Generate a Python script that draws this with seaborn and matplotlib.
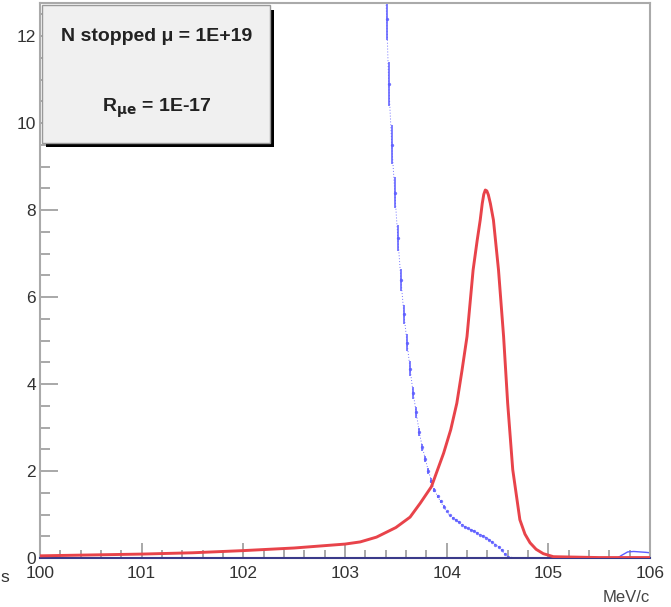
import numpy as np
import pandas as pd
import seaborn as sns
import matplotlib.pyplot as plt
from matplotlib.patches import Rectangle

# signal (red) curve
red_x = [100.0, 100.5, 101.0, 101.5, 102.0, 102.5, 103.0, 103.15, 103.31, 103.5,
         103.64, 103.74, 103.85, 103.97, 104.04, 104.1, 104.15, 104.2, 104.26,
         104.3, 104.33, 104.35, 104.365, 104.38, 104.395, 104.41, 104.43, 104.46,
         104.51, 104.56, 104.6, 104.65, 104.72, 104.77, 104.82, 104.88, 104.95,
         105.05, 105.5, 106.0]
red_y = [0.05, 0.07, 0.09, 0.12, 0.17, 0.23, 0.32, 0.37, 0.48, 0.7,
         0.94, 1.26, 1.64, 2.41, 2.95, 3.56, 4.3, 5.09, 6.62,
         7.3, 7.77, 8.15, 8.36, 8.46, 8.44, 8.35, 8.15, 7.77,
         6.62, 5.09, 3.56, 2.03, 0.88, 0.55, 0.35, 0.2, 0.1,
         0.03, 0.01, 0.01]

# DIO background (blue) points with errors
blue_x = [103.35, 103.38, 103.41, 103.43, 103.46, 103.49, 103.52, 103.55, 103.58,
          103.61, 103.64, 103.67, 103.70, 103.73, 103.76, 103.79, 103.82, 103.85,
          103.88, 103.91, 103.94, 103.97, 104.00, 104.03, 104.06, 104.09, 104.12,
          104.15, 104.18, 104.21, 104.24, 104.27, 104.30, 104.33, 104.36, 104.39,
          104.42, 104.45, 104.48, 104.51, 104.54, 104.57, 104.60, 104.63]
blue_y = [16.5, 14.2, 12.4, 10.9, 9.5, 8.4, 7.35, 6.4, 5.6,
          4.95, 4.35, 3.8, 3.35, 2.9, 2.55, 2.28, 2.0, 1.78,
          1.56, 1.42, 1.3, 1.18, 1.07, 0.98, 0.92, 0.87, 0.82,
          0.77, 0.72, 0.68, 0.65, 0.62, 0.58, 0.54, 0.5, 0.47,
          0.42, 0.37, 0.31, 0.25, 0.18, 0.1, 0.03, 0.0]
blue_err = [0.5, 0.5, 0.5, 0.5, 0.45, 0.35, 0.3, 0.25, 0.22,
            0.2, 0.17, 0.14, 0.12, 0.1, 0.08, 0.07, 0.06, 0.05,
            0.04, 0.03, 0.03, 0.03, 0.02, 0.02, 0.02, 0.02, 0.02,
            0.02, 0.02, 0.02, 0.02, 0.02, 0.02, 0.02, 0.02, 0.02,
            0.02, 0.02, 0.02, 0.02, 0.02, 0.02, 0.02, 0.0]
# small bump near the right edge
bump_x = [105.68, 105.72, 105.78, 105.84, 105.9, 105.96, 106.0]
bump_y = [0.0, 0.06, 0.14, 0.15, 0.14, 0.13, 0.12]

x_ticks = [100, 101, 102, 103, 104, 105, 106]
y_ticks = [0, 2, 4, 6, 8, 10, 12]

sns.set_style("white")
plt.rcParams['font.family'] = ['Liberation Sans', 'DejaVu Sans']

fig = plt.figure(figsize=(6.71, 6.07), dpi=100)
ax = fig.add_axes([40 / 671, 1 - 558 / 607, 610 / 671, 555 / 607])

red_df = pd.DataFrame({'p': red_x, 'n': red_y})
blue_df = pd.DataFrame({'p': blue_x, 'n': blue_y, 'e': blue_err})

blue_c = '#5c5cff'
ax.errorbar(blue_df['p'], blue_df['n'], yerr=blue_df['e'], fmt='none',
            ecolor=blue_c, elinewidth=1.4, alpha=0.8, zorder=2)
sns.lineplot(data=blue_df, x='p', y='n', ax=ax, color=blue_c, lw=0.7,
             marker='o', markersize=2.4, markeredgewidth=0, alpha=0.85,
             linestyle=(0, (1, 2)), zorder=2)
ax.plot(bump_x, bump_y, color=blue_c, lw=1.0, zorder=2)
sns.lineplot(data=red_df, x='p', y='n', ax=ax, color='#e8434a', lw=2.1, zorder=3)

ax.set_xlim(100, 106)
ax.set_ylim(0, 12.76)
ax.set_xticks(x_ticks)
ax.set_yticks(y_ticks)
ax.set_xticks(np.arange(100, 106.01, 0.2), minor=True)
ax.set_yticks(np.arange(0, 12.76, 0.5), minor=True)
ax.set_xlabel('')
ax.set_ylabel('')
ax.tick_params(axis='x', which='major', direction='in', length=11, width=1.2,
               color='#999999', labelsize=12.5, pad=6, labelcolor='#333333')
ax.tick_params(axis='x', which='minor', direction='in', length=6, width=1.2,
               color='#999999')
ax.tick_params(axis='y', which='major', direction='in', length=13, width=1.2,
               color='#999999', labelsize=12.5, pad=3, labelcolor='#333333')
ax.tick_params(axis='y', which='minor', direction='in', length=7, width=1.2,
               color='#999999')
ax.tick_params(left=True, bottom=True, which='both')

for side in ['top', 'right', 'left']:
    ax.spines[side].set_color('#aaaaaa')
    ax.spines[side].set_linewidth(1.5)
ax.spines['bottom'].set_color('#3a3a8a')
ax.spines['bottom'].set_linewidth(1.5)

# stat box with shadow
bx0, bx1 = 0.003, 0.377
by0, by1 = 0.748, 0.996
ax.add_patch(Rectangle((bx0 + 0.007, by0 - 0.008), bx1 - bx0, by1 - by0,
                       transform=ax.transAxes, facecolor='black',
                       edgecolor='none', zorder=5, clip_on=False))
ax.add_patch(Rectangle((bx0, by0), bx1 - bx0, by1 - by0,
                       transform=ax.transAxes, facecolor='#f0f0f0',
                       edgecolor='#999999', lw=1.0, zorder=6, clip_on=False))
ax.text(0.192, 0.939, 'N stopped \u03bc = 1E+19', transform=ax.transAxes,
        ha='center', va='center', fontsize=14, fontweight='bold',
        color='#222222', zorder=7)
ax.text(0.192, 0.811, r'R$_{\mathbf{\mu e}}$ = 1E-17', transform=ax.transAxes,
        ha='center', va='center', fontsize=14, fontweight='bold',
        color='#222222', zorder=7)

fig.text(650 / 671, 1 - 598 / 607, 'MeV/c', ha='right', va='center',
         fontsize=12, color='#444444')
fig.text(0.0, 1 - 578 / 607, 's', ha='left', va='center',
         fontsize=12.5, color='#333333')

fig.savefig('out.png', dpi=100)
